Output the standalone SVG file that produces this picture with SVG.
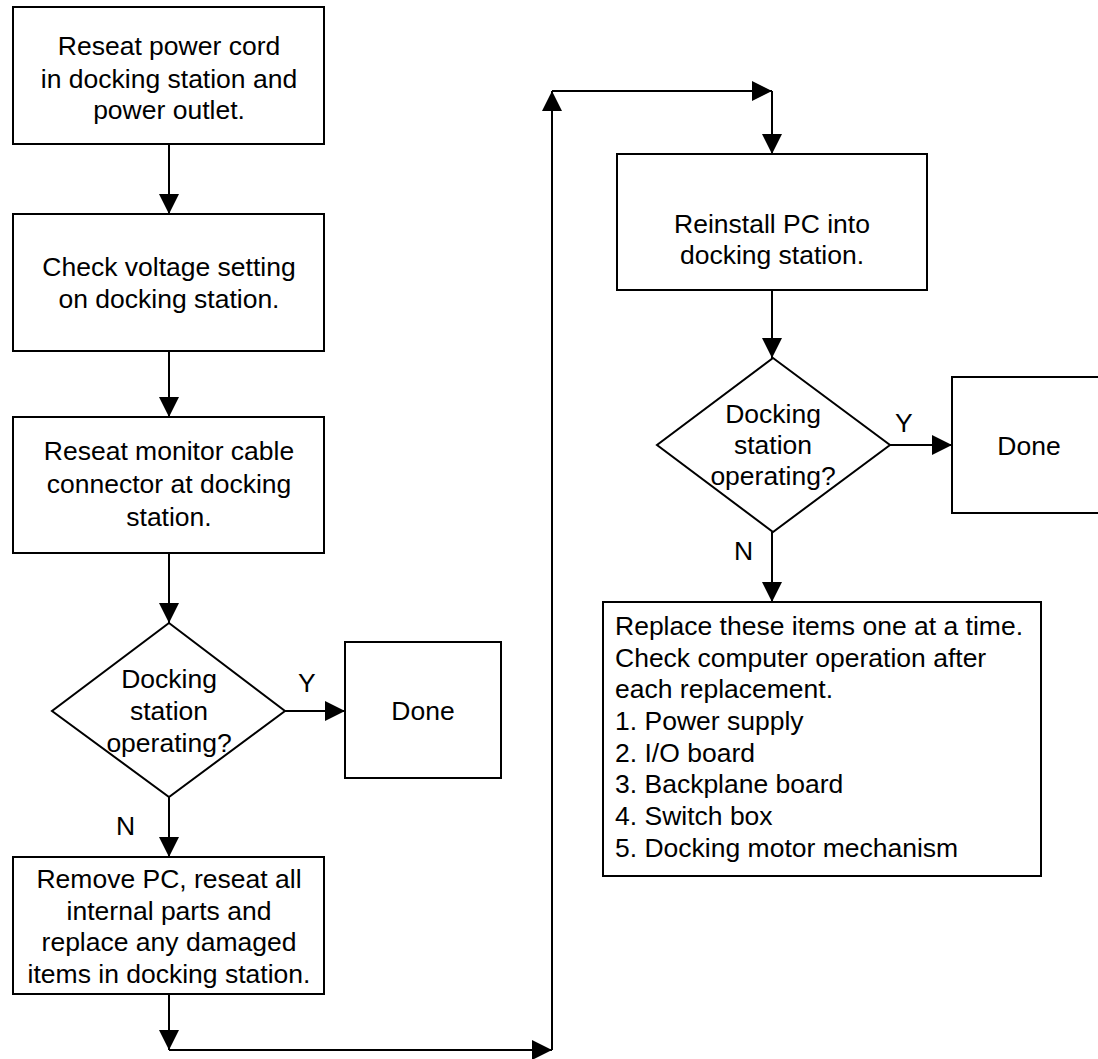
<svg xmlns="http://www.w3.org/2000/svg" width="1098" height="1059" viewBox="0 0 1098 1059">
<style>
.box{fill:#fff;stroke:#000;stroke-width:2}
.t{font-family:"Liberation Sans",Arial,Helvetica,sans-serif;font-size:26.5px;fill:#000}
.c{text-anchor:middle}
.ln{fill:none;stroke:#000;stroke-width:2}
</style>
<defs>
<marker id="ah" markerUnits="userSpaceOnUse" markerWidth="22" markerHeight="22" refX="20" refY="10" orient="auto">
<path d="M0,0 L20,10 L0,20 Z" fill="#000"/>
</marker>
</defs>
<rect width="1098" height="1059" fill="#fff"/>
<g id="connectors">
<line class="ln" x1="169" y1="144" x2="169" y2="214" marker-end="url(#ah)"/>
<line class="ln" x1="169" y1="351" x2="169" y2="417" marker-end="url(#ah)"/>
<line class="ln" x1="169" y1="553" x2="169" y2="623" marker-end="url(#ah)"/>
<line class="ln" x1="285" y1="711" x2="345" y2="711" marker-end="url(#ah)"/>
<line class="ln" x1="169" y1="797" x2="169" y2="857" marker-end="url(#ah)"/>
<line class="ln" x1="169" y1="994" x2="169" y2="1050" marker-end="url(#ah)"/>
<line class="ln" x1="169" y1="1050" x2="552" y2="1050" marker-end="url(#ah)"/>
<line class="ln" x1="552" y1="1050" x2="552" y2="91" marker-end="url(#ah)"/>
<line class="ln" x1="552" y1="91" x2="772" y2="91" marker-end="url(#ah)"/>
<line class="ln" x1="772" y1="91" x2="772" y2="154" marker-end="url(#ah)"/>
<line class="ln" x1="772" y1="290" x2="772" y2="358" marker-end="url(#ah)"/>
<line class="ln" x1="890" y1="445" x2="952" y2="445" marker-end="url(#ah)"/>
<line class="ln" x1="772" y1="532" x2="772" y2="602" marker-end="url(#ah)"/>
<text class="t" x="298" y="692">Y</text>
<text class="t" x="116" y="835">N</text>
<text class="t" x="895" y="432">Y</text>
<text class="t" x="734" y="560">N</text>
</g>
<g id="reseat-power">
<rect class="box" x="13" y="7" width="311" height="137"/>
<text class="t c" x="169" y="55">Reseat power cord</text>
<text class="t c" x="169" y="88">in docking station and</text>
<text class="t c" x="169" y="119">power outlet.</text>
</g>
<g id="check-voltage">
<rect class="box" x="13" y="214" width="311" height="137"/>
<text class="t c" x="169" y="276">Check voltage setting</text>
<text class="t c" x="169" y="308">on docking station.</text>
</g>
<g id="reseat-monitor">
<rect class="box" x="13" y="417" width="311" height="136"/>
<text class="t c" x="169" y="460">Reseat monitor cable</text>
<text class="t c" x="169" y="493">connector at docking</text>
<text class="t c" x="169" y="526">station.</text>
</g>
<g id="decision1">
<polygon class="box" points="169,623 285,711 169,797 52,711"/>
<text class="t c" x="169" y="688">Docking</text>
<text class="t c" x="169" y="720">station</text>
<text class="t c" x="169" y="752">operating?</text>
</g>
<g id="done1">
<rect class="box" x="345" y="642" width="156" height="136"/>
<text class="t c" x="423" y="720">Done</text>
</g>
<g id="remove-pc">
<rect class="box" x="13" y="857" width="311" height="137"/>
<text class="t c" x="169" y="888">Remove PC, reseat all</text>
<text class="t c" x="169" y="920">internal parts and</text>
<text class="t c" x="169" y="951">replace any damaged</text>
<text class="t c" x="169" y="983">items in docking station.</text>
</g>
<g id="reinstall">
<rect class="box" x="617" y="154" width="310" height="136"/>
<text class="t c" x="772" y="233">Reinstall PC into</text>
<text class="t c" x="772" y="264">docking station.</text>
</g>
<g id="decision2">
<polygon class="box" points="773,358 890,445 773,532 657,445"/>
<text class="t c" x="773" y="423">Docking</text>
<text class="t c" x="773" y="454">station</text>
<text class="t c" x="773" y="485">operating?</text>
</g>
<g id="done2">
<rect class="box" x="952" y="377" width="156" height="136"/>
<text class="t c" x="1029" y="455">Done</text>
</g>
<g id="replace-items">
<rect class="box" x="603" y="602" width="438" height="274"/>
<text class="t" x="615" y="635">Replace these items one at a time.</text>
<text class="t" x="615" y="667">Check computer operation after</text>
<text class="t" x="615" y="698">each replacement.</text>
<text class="t" x="615" y="730">1. Power supply</text>
<text class="t" x="615" y="762">2. I/O board</text>
<text class="t" x="615" y="793">3. Backplane board</text>
<text class="t" x="615" y="825">4. Switch box</text>
<text class="t" x="615" y="857">5. Docking motor mechanism</text>
</g>
</svg>
